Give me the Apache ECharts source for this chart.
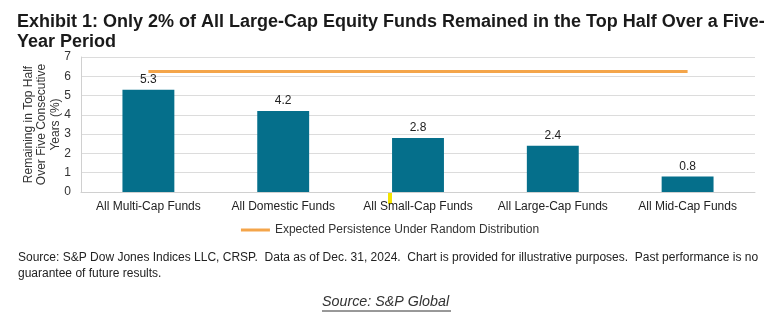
<!DOCTYPE html>
<html>
<head>
<meta charset="utf-8">
<script src="https://cdn.jsdelivr.net/npm/echarts@6/dist/echarts.min.js"></script>
<style>
  html, body { margin: 0; padding: 0; background: #fff; }
  #chart { width: 780px; height: 325px; }
</style>
</head>
<body>
<div id="chart"></div>
<script>
// Fund categories and the share of each that stayed in the top half for five years
const categories = ['All Multi-Cap Funds', 'All Domestic Funds', 'All Small-Cap Funds', 'All Large-Cap Funds', 'All Mid-Cap Funds'];
const persistence = [5.3, 4.2, 2.8, 2.4, 0.8];
// Expected persistence if results were random: 0.5^4 = 6.25%
const expected = [6.25, 6.25, 6.25, 6.25, 6.25];
const yTicks = [0, 1, 2, 3, 4, 5, 6, 7];

const chart = echarts.init(document.getElementById('chart'));
const font = 'Liberation Sans, Arial, sans-serif';

chart.setOption({
  backgroundColor: '#ffffff',
  animation: false,
  title: {
    text: 'Exhibit 1: Only 2% of All Large-Cap Equity Funds Remained in the Top Half Over a Five-\nYear Period',
    left: 12,
    top: 7,
    textStyle: { fontFamily: font, fontSize: 18, fontWeight: 'bold', color: '#1a1a1a', lineHeight: 20 }
  },
  grid: { left: 81, right: 25, top: 57, bottom: 133 },
  legend: {
    data: [{ name: 'Expected Persistence Under Random Distribution', icon: 'rect' }],
    left: 'center',
    top: 219,
    itemWidth: 29,
    itemHeight: 3,
    itemGap: 6,
    textStyle: { fontFamily: font, fontSize: 12, color: '#333' }
  },
  xAxis: {
    type: 'category',
    data: categories,
    axisLine: { lineStyle: { color: '#d0d0d0' } },
    axisTick: { show: false },
    axisLabel: { interval: 0, fontFamily: font, fontSize: 12, color: '#222', margin: 9 }
  },
  yAxis: {
    type: 'value',
    min: yTicks[0],
    max: yTicks[yTicks.length - 1],
    interval: 1,
    name: 'Remaining in Top Half\nOver Five Consecutive\nYears (%)',
    nameLocation: 'middle',
    nameRotate: 90,
    nameGap: 19,
    nameMoveOverlap: false,
    nameTextStyle: { fontFamily: font, fontSize: 12, color: '#333', lineHeight: 13.5 },
    axisLine: { show: true, lineStyle: { color: '#d0d0d0' } },
    axisLabel: { fontFamily: font, fontSize: 12, color: '#333', margin: 10 },
    splitLine: { lineStyle: { color: '#dcdcdc' } }
  },
  series: [
    {
      name: 'Persistence',
      type: 'bar',
      data: persistence,
      barWidth: '38.5%',
      itemStyle: { color: '#056f8b' },
      label: {
        show: true,
        position: 'top',
        distance: 4,
        fontFamily: font,
        fontSize: 12,
        color: '#222',
        formatter: p => p.value.toFixed(1)
      }
    },
    {
      name: 'Expected Persistence Under Random Distribution',
      type: 'line',
      data: expected,
      symbol: 'none',
      lineStyle: { color: '#f4a54a', width: 3 },
      itemStyle: { color: '#f4a54a' }
    }
  ],
  graphic: [
    {
      type: 'rect',
      shape: { x: 388, y: 192, width: 4, height: 12 },
      style: { fill: '#f3e400' }
    },
    {
      type: 'text',
      left: 18,
      top: 250,
      style: {
        text: 'Source: S&P Dow Jones Indices LLC, CRSP.  Data as of Dec. 31, 2024.  Chart is provided for illustrative purposes.  Past performance is no\nguarantee of future results.',
        font: '12px ' + font,
        fill: '#222',
        lineHeight: 16
      }
    },
    {
      type: 'text',
      left: 322,
      top: 295,
      style: {
        text: 'Source: S&P Global',
        font: 'italic 14.3px ' + font,
        fill: '#333'
      }
    },
    {
      type: 'line',
      shape: { x1: 322, y1: 311, x2: 451, y2: 311 },
      style: { stroke: '#333', lineWidth: 1 }
    }
  ]
});
</script>
</body>
</html>
